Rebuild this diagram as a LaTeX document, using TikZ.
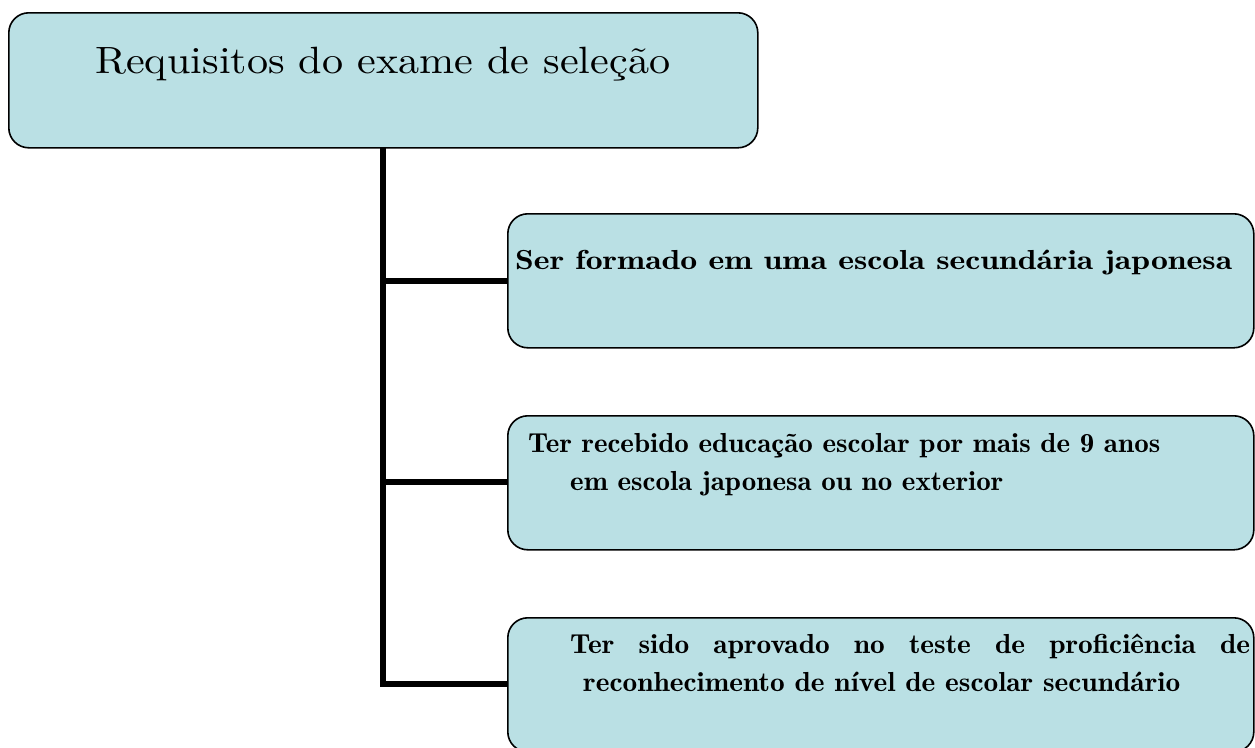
\documentclass[tikz,border=0pt]{standalone}
\usepackage{fontspec}
\usepackage{graphicx}
\newfontfamily\demifont{lmromandemi10-regular.otf}
\newfontfamily\titlefont{lmroman10-regular.otf}
\definecolor{boxfill}{RGB}{186,224,228}
\tikzset{
  reqbox/.style={draw=black, line width=1.6pt, fill=boxfill, rounded corners=20pt, minimum width=746pt, minimum height=134pt, anchor=north west, inner sep=0pt},
  conn/.style={draw=black, line width=5.5pt},
  txt/.style={anchor=base west, inner sep=0pt, font=\fontsize{27.5pt}{33pt}\demifont}
}
\newsavebox\measbox
\newlength\measlen
\begin{document}
\sbox\measbox{\fontsize{27.5pt}{33pt}\demifont reconhecimento de nível de escolar secundário}%
\setlength\measlen{\wd\measbox}%
\pgfmathsetmacro\fthree{597/\the\measlen}%
\pgfmathsetmacro\wthree{680/\fthree}%
\begin{tikzpicture}[x=1pt,y=-1pt]
\useasboundingbox (0,0) rectangle (1255,747);
\node[reqbox, minimum width=749pt, minimum height=135pt] (top) at (8,12) {};
\node[reqbox] (b1) at (507,213) {};
\node[reqbox] (b2) at (507,415) {};
\node[reqbox] (b3) at (507,617) {};
\node[anchor=base west, inner sep=0pt, font=\fontsize{38pt}{44pt}\titlefont] (ttitle) at (95,73) {\resizebox{575pt}{\height}{Requisitos do exame de seleção}};
\node[txt] (t1) at (515,269) {\resizebox{717pt}{\height}{Ser formado em uma escola secundária japonesa}};
\node[txt] (t2a) at (528,452) {\resizebox{632pt}{\height}{Ter recebido educação escolar por mais de 9 anos}};
\node[txt] (t2b) at (570,490) {\resizebox{433pt}{\height}{em escola japonesa ou no exterior}};
\node[txt] (t3a) at (570,653) {\scalebox{\fthree}[1]{\makebox[\wthree pt][s]{Ter sido aprovado no teste de proficiência de}}};
\node[txt] (t3b) at (583,691) {\resizebox{597pt}{\height}{reconhecimento de nível de escolar secundário}};
\coordinate (spine) at (383,147);
\draw[conn] (spine) -- (383,684.5);
\draw[conn] (383,281) -- (b1.west |- 0,281);
\draw[conn] (383,482) -- (b2.west |- 0,482);
\draw[conn] (380.25,684) -- (b3.west |- 0,684);
\end{tikzpicture}
\end{document}
